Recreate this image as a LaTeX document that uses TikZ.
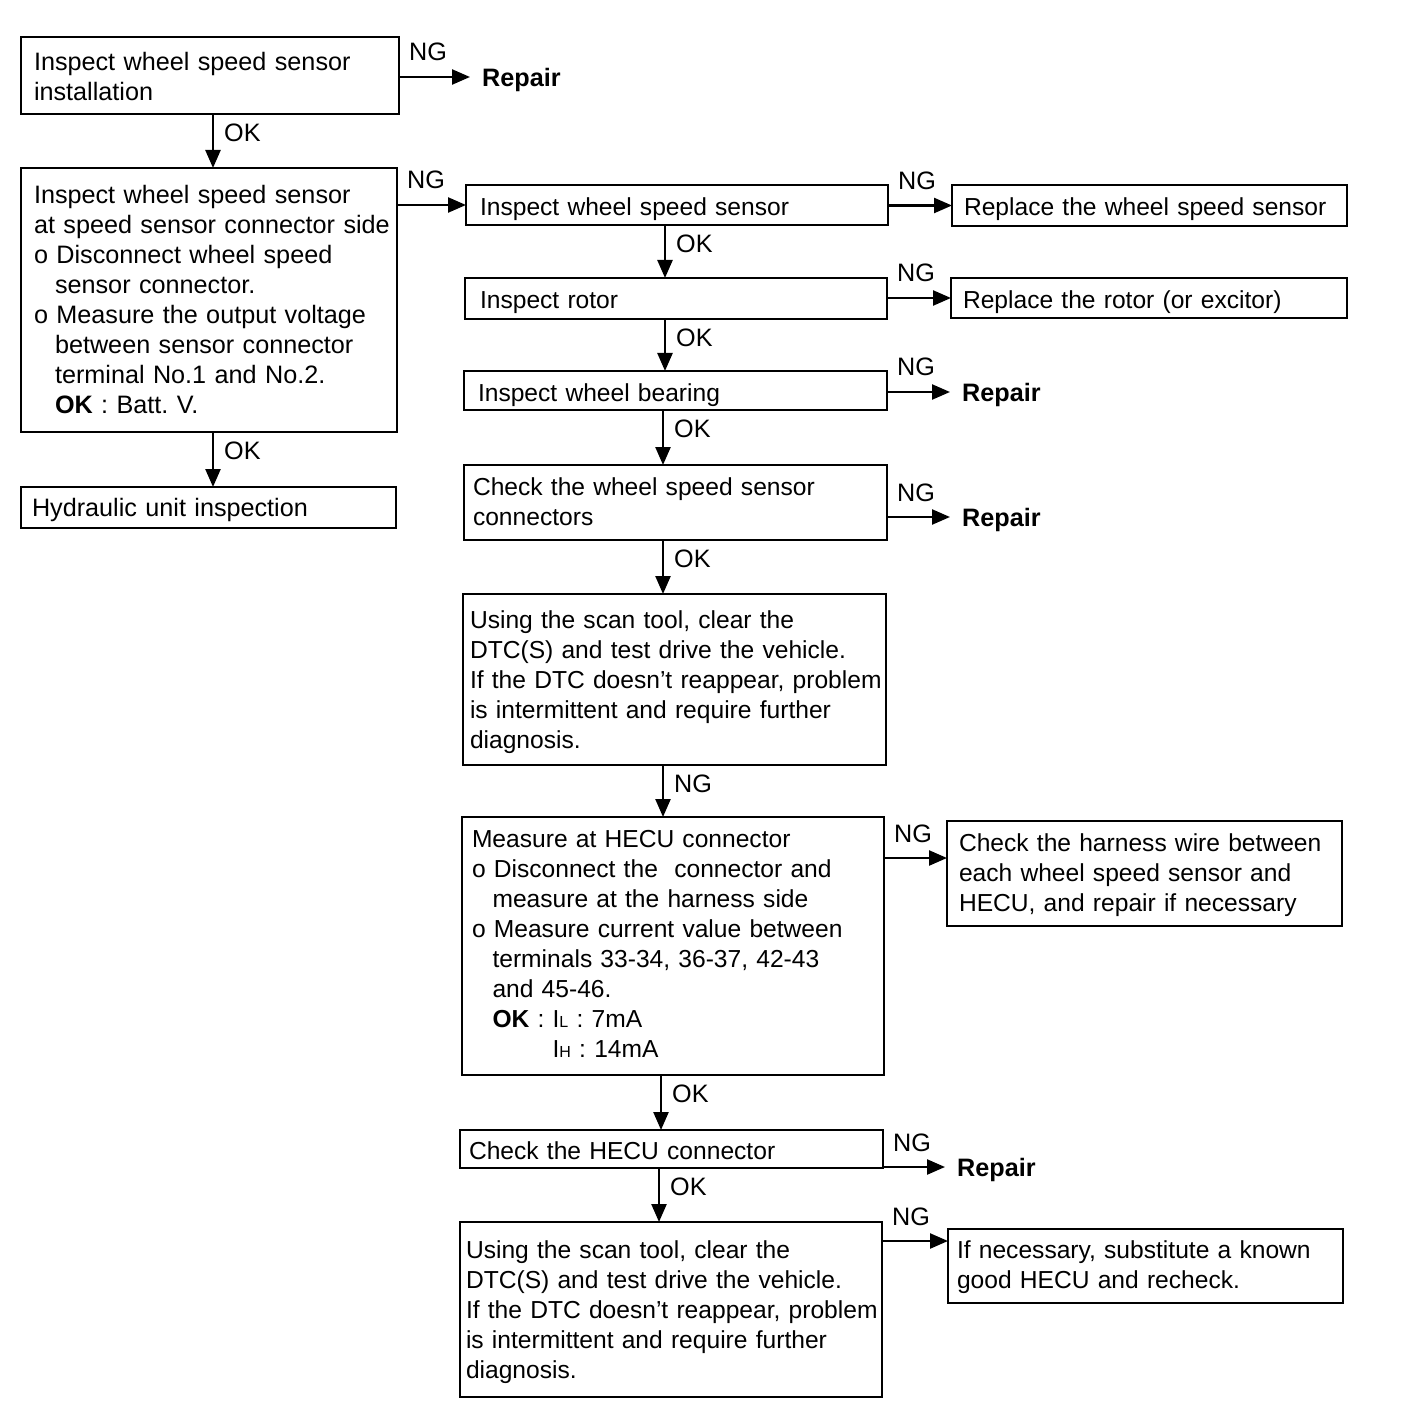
\documentclass[tikz,border=0pt]{standalone}
\usepackage{fontspec}
\setmainfont{Liberation Sans}
\usetikzlibrary{arrows.meta}
\frenchspacing
\newcommand\ind{\hspace*{0.834em}}
\newcommand\smallcap[1]{{\fontsize{16}{16}\selectfont #1}}
\newcommand\lines[2][4pt]{\raisebox{-#1}[\height][\depth]{\begin{tabular}{@{}l@{}}#2\end{tabular}}}
\tikzset{
  txt/.style={font=\fontsize{25.2}{30}\selectfont},
  rtxt/.style={font=\fontsize{24.6}{30}\selectfont},
  box/.style={txt, draw, line width=2.2pt, anchor=north west, outer sep=0pt, align=left, inner ysep=0pt},
  rbox/.style={box, rtxt},
  arr/.style={line width=2.4pt, -{Triangle[length=18pt,width=15pt]}},
  rep/.style={anchor=west, inner xsep=12pt, inner ysep=0pt, text height=18.5pt, text depth=0pt, font=\fontsize{25.2}{30}\selectfont\bfseries},
  nglab/.style={txt, anchor=base west, inner sep=0pt, xshift=9pt, yshift=16pt},
  oklab/.style={txt, anchor=north west, inner sep=0pt, xshift=10pt, yshift=-9pt}
}
\begin{document}
\begin{tikzpicture}[x=1pt,y=-1pt]
\path[fill=white, use as bounding box] (0,0) rectangle (1408,1404);

% left column
\node[box, minimum width=378pt, minimum height=77pt, inner xsep=13pt, text width=352pt] (A) at (21,37)
  {\lines{Inspect wheel speed sensor\\installation}};
\node[box, minimum width=376pt, minimum height=264pt, inner xsep=13pt, text width=350pt] (B) at (21,168)
  {\lines[3pt]{Inspect wheel speed sensor\\
   at speed sensor connector side\\
   o Disconnect wheel speed\\
   \ind sensor connector.\\
   o Measure the output voltage\\
   \ind between sensor connector\\
   \ind terminal No.1 and No.2.\\
   \ind\textbf{OK} : Batt. V.}};
\node[box, minimum width=375pt, minimum height=41pt, inner xsep=11pt, text width=353pt] (HY) at (21,487)
  {\lines[3pt]{Hydraulic unit inspection}};

% right column
\node[rbox, minimum width=422pt, minimum height=40pt, inner xsep=14pt, text width=394pt] (C) at (466,185)
  {\lines[5pt]{Inspect wheel speed sensor}};
\node[rbox, minimum width=395pt, minimum height=41pt, inner xsep=12pt, text width=371pt] (D) at (952,185)
  {\lines{Replace the wheel speed sensor}};
\node[rbox, minimum width=422pt, minimum height=41pt, inner xsep=15pt, text width=392pt] (E) at (465,278)
  {\lines{Inspect rotor}};
\node[rbox, minimum width=396pt, minimum height=40pt, inner xsep=12pt, text width=372pt] (F) at (951,278)
  {\lines[5pt]{Replace the rotor (or excitor)}};
\node[rbox, minimum width=423pt, minimum height=39pt, inner xsep=14pt, text width=395pt] (G) at (464,371)
  {\lines[5pt]{Inspect wheel bearing}};
\node[rbox, minimum width=423pt, minimum height=75pt, inner xsep=9pt, text width=405pt] (H) at (464,465)
  {\lines[2pt]{Check the wheel speed sensor\\connectors}};
\node[rbox, minimum width=423pt, minimum height=171pt, inner xsep=7pt, text width=409pt] (I) at (463,594)
  {\lines[3pt]{Using the scan tool, clear the\\
   DTC(S) and test drive the vehicle.\\
   If the DTC doesn't reappear, problem\\
   is intermittent and require further\\
   diagnosis.}};
\node[rbox, minimum width=422pt, minimum height=258pt, inner xsep=10pt, text width=402pt] (J) at (462,817)
  {\lines[0pt]{Measure at HECU connector\\
   o Disconnect the \ connector and\\
   \ind measure at the harness side\\
   o Measure current value between\\
   \ind terminals 33-34, 36-37, 42-43\\
   \ind and 45-46.\\
   \ind\textbf{OK} : I\smallcap{L} : 7mA\\
   \ind\phantom{\textbf{OK} : }I\smallcap{H} : 14mA}};
\node[rbox, minimum width=395pt, minimum height=105pt, inner xsep=12pt, text width=371pt] (K) at (947,821)
  {\lines[2pt]{Check the harness wire between\\
   each wheel speed sensor and\\
   HECU, and repair if necessary}};
\node[rbox, minimum width=423pt, minimum height=38pt, inner xsep=9pt, text width=405pt] (L) at (460,1130)
  {\lines{Check the HECU connector}};
\node[rbox, minimum width=422pt, minimum height=175pt, inner xsep=6pt, text width=410pt] (M) at (460,1222)
  {\lines[3pt]{Using the scan tool, clear the\\
   DTC(S) and test drive the vehicle.\\
   If the DTC doesn't reappear, problem\\
   is intermittent and require further\\
   diagnosis.}};
\node[rbox, minimum width=395pt, minimum height=74pt, inner xsep=9pt, text width=377pt] (N) at (948,1229)
  {\lines[1pt]{If necessary, substitute a known\\
   good HECU and recheck.}};

% Repair targets
\node[rep] (R1) at (470,77) {Repair};
\node[rep] (R2) at (950,392) {Repair};
\node[rep] (R3) at (950,517) {Repair};
\node[rep] (R4) at (945,1167) {Repair};
\coordinate (kin) at (947,858);
\coordinate (nin) at (948,1241);

% column guides
\coordinate (xl) at (213,0);
\coordinate (x1) at (665,0);
\coordinate (x2) at (663,0);
\coordinate (x3) at (661,0);
\coordinate (x4) at (659,0);

% vertical arrows
\draw[arr] (A.south -| xl) -- (B.north -| xl) node[oklab,pos=0] {OK};
\draw[arr] (B.south -| xl) -- (HY.north -| xl) node[oklab,pos=0] {OK};
\draw[arr] (C.south -| x1) -- (E.north -| x1) node[oklab,pos=0] {OK};
\draw[arr] (E.south -| x1) -- (G.north -| x1) node[oklab,pos=0] {OK};
\draw[arr] (G.south -| x2) -- (H.north -| x2) node[oklab,pos=0] {OK};
\draw[arr] (H.south -| x2) -- (I.north -| x2) node[oklab,pos=0] {OK};
\draw[arr] (I.south -| x2) -- (J.north -| x2) node[oklab,pos=0] {NG};
\draw[arr] (J.south -| x3) -- (L.north -| x3) node[oklab,pos=0] {OK};
\draw[arr] (L.south -| x4) -- (M.north -| x4) node[oklab,pos=0] {OK};

% horizontal arrows
\draw[arr] (R1.west -| A.east) -- (R1.west) node[nglab,pos=0] {NG};
\draw[arr] (C.west -| B.east) -- (C.west) node[nglab,pos=0] {NG};
\draw[arr] (D.west -| C.east) -- (D.west) node[nglab,pos=0] {NG};
\draw[arr] (F.west -| E.east) -- (F.west) node[nglab,pos=0] {NG};
\draw[arr] (R2.west -| G.east) -- (R2.west) node[nglab,pos=0] {NG};
\draw[arr] (R3.west -| H.east) -- (R3.west) node[nglab,pos=0] {NG};
\draw[arr] (kin -| J.east) -- (kin) node[nglab,pos=0] {NG};
\draw[arr] (R4.west -| L.east) -- (R4.west) node[nglab,pos=0] {NG};
\draw[arr] (nin -| M.east) -- (nin) node[nglab,pos=0] {NG};
\end{tikzpicture}
\end{document}
